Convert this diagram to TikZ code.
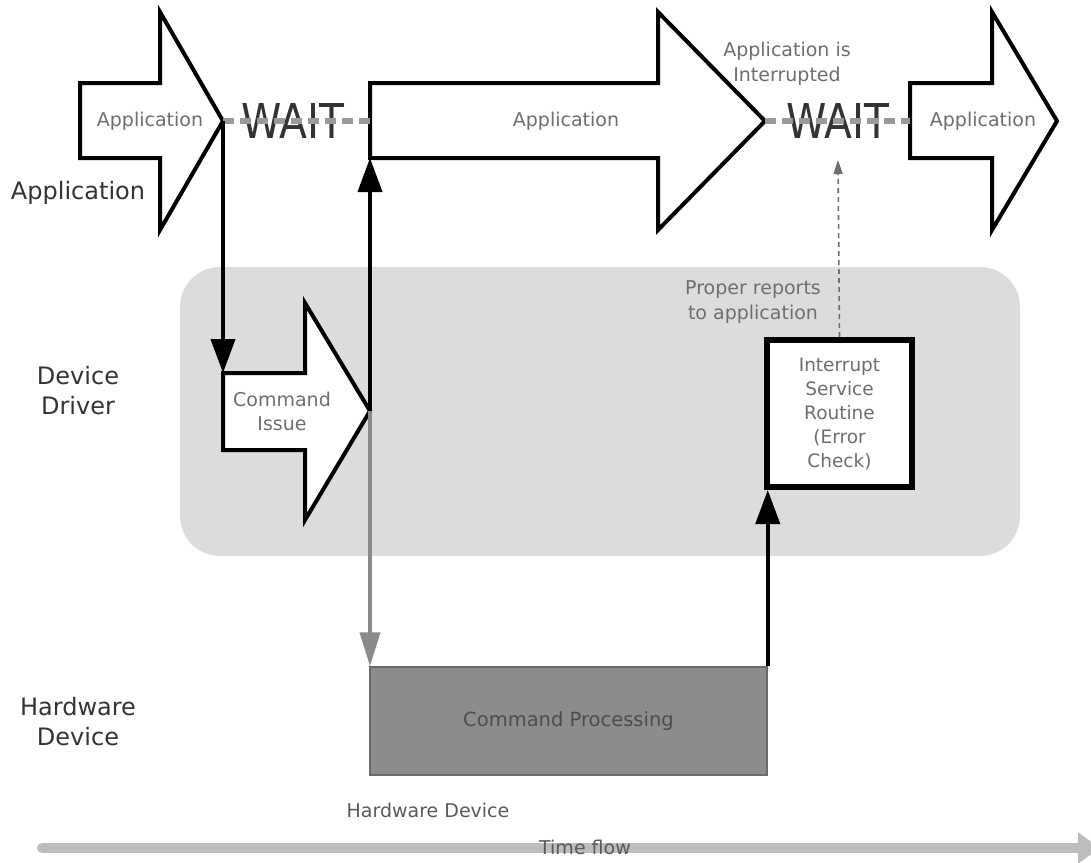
\documentclass[tikz,border=0pt]{standalone}
\usepackage{fontspec}
\setmainfont{DejaVu Sans}
\usetikzlibrary{arrows.meta}
\definecolor{panel}{HTML}{DCDCDC}
\definecolor{labelgray}{HTML}{6E6E6E}
\definecolor{rowgray}{HTML}{333333}
\definecolor{procfill}{HTML}{8C8C8C}
\definecolor{procedge}{HTML}{6A6A6A}
\definecolor{linkgray}{HTML}{8A8A8A}
\definecolor{waitgray}{HTML}{9A9A9A}
\definecolor{timegray}{HTML}{BDBDBD}
\tikzset{
  fatarrow/.style={draw=black, line width=4pt, fill=white, line join=miter},
  small/.style={font=\fontsize{19}{24}\selectfont, text=labelgray, align=center, inner sep=0pt},
  rowlabel/.style={font=\fontsize{24}{30}\selectfont, text=rowgray, align=center, inner sep=0pt},
  waittext/.style={font=\fontsize{48}{48}\selectfont, text=black!80, xscale=0.85, inner sep=0pt},
  waitline/.style={draw=waitgray, line width=6pt, dash pattern=on 11pt off 6pt},
  link/.style={draw=black, line width=4pt, -{Triangle[length=34pt,width=24pt]}},
  graylink/.style={draw=linkgray, line width=4pt, -{Triangle[length=34pt,width=20pt]}},
}
\begin{document}
\begin{tikzpicture}[x=1pt,y=-1pt]
\useasboundingbox (0,0) rectangle (1091,862);

% device driver band
\fill[panel, rounded corners=40pt] (180,267) rectangle (1020,556);

% application block arrows
\draw[fatarrow] (80,83) -- (160,83) -- (160,12) -- (223,121) -- (160,230) -- (160,158) -- (80,158) -- cycle;
\coordinate (app1tip) at (223,121);
\node[small] (app1) at (150,121) {Application};

\draw[fatarrow] (370,83) -- (658,83) -- (658,12) -- (765,121) -- (658,230) -- (658,158) -- (370,158) -- cycle;
\coordinate (app2tail) at (370,121);
\coordinate (app2foot) at (370,158);
\coordinate (app2tip) at (765,121);
\node[small] (app2) at (566,121) {Application};

\draw[fatarrow] (910,83) -- (992,83) -- (992,12) -- (1057,121) -- (992,230) -- (992,158) -- (910,158) -- cycle;
\coordinate (app3tail) at (910,121);
\node[small] (app3) at (983,121) {Application};

% waiting periods
\node[waittext] (wait1) at (293,121) {WAIT};
\draw[waitline] (app1tip) -- (app2tail);
\node[waittext] (wait2) at (838,121) {WAIT};
\draw[waitline] (app2tip) -- (app3tail);
\node[small, font=\fontsize{19}{25}\selectfont] (intr) at (787,64) {Application is\\Interrupted};

% row labels
\node[rowlabel] (rowapp) at (78,193) {Application};
\node[rowlabel] (rowdrv) at (78,391) {Device\\Driver};
\node[rowlabel] (rowhw) at (78,722) {Hardware\\Device};

% command issue
\draw[fatarrow] (223,373) -- (305,373) -- (305,303) -- (370,411) -- (305,520) -- (305,450) -- (223,450) -- cycle;
\coordinate (cmdtail) at (223,373);
\coordinate (cmdtip) at (370,411);
\node[small] (cmd) at (282,411) {Command\\Issue};

% command processing in hardware
\node[draw=procedge, line width=1.5pt, fill=procfill, minimum width=397pt, minimum height=108pt, inner sep=0pt,
      font=\fontsize{19.5}{24}\selectfont, text=black!70] (proc) at (568.5,721) {Command Processing};

% interrupt service routine
\node[draw=black, line width=6pt, fill=white, minimum width=145pt, minimum height=147pt, inner sep=0pt,
      small, font=\fontsize{18.5}{24}\selectfont] (isr) at (839.5,413.5) {Interrupt\\Service\\Routine\\(Error\\Check)};
\node[small, font=\fontsize{19}{25}\selectfont] (reports) at (753,302) {Proper reports\\to application};

% connectors
\draw[link] (app1tip) -- (cmdtail);
\draw[link] (cmdtip) -- (app2foot);
\draw[graylink] (cmdtip) -- (cmdtip |- proc.north);
\draw[link] (proc.north east) -- (proc.north east |- isr.south);
\draw[draw=labelgray, line width=1.6pt, dash pattern=on 5pt off 4pt, -{Triangle[length=14pt,width=9pt]}]
  (isr.north) -- (838,160);

% time axis
\node[small, font=\fontsize{19}{22}\selectfont, text=black!65] (hwdev) at (428,810) {Hardware Device};
\coordinate (tstart) at (42,848);
\coordinate (tend) at (1100,848);
\draw[draw=timegray, line width=10pt, line cap=round, -{Triangle[length=22pt,width=30pt]}] (tstart) -- (tend);
\node[small, font=\fontsize{19}{22}\selectfont, text=black!65] (time) at (585,847) {Time flow};
\end{tikzpicture}
\end{document}
